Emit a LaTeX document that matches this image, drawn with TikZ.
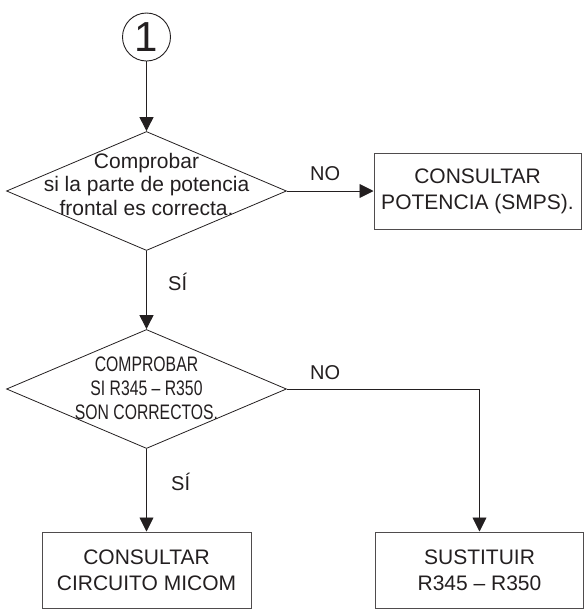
\documentclass[tikz,border=0pt]{standalone}
\usepackage{fontspec}
\setmainfont{Liberation Sans}
\newfontfamily\narrowfont[FakeStretch=0.75,Ligatures=TeX]{Liberation Sans}
\usetikzlibrary{shapes.geometric,arrows.meta}
\definecolor{ink}{HTML}{231F20}
\begin{document}
\begin{tikzpicture}[x=1pt,y=-1pt,
  every node/.style={text=ink},
  line/.style={draw=ink,line width=0.9pt},
  flow/.style={line,-{Triangle[length=14pt,width=14pt]}},
  decision/.style={diamond,draw=ink,line width=0.8pt,inner sep=0pt,
    minimum width=280pt,minimum height=119pt},
  actionbox/.style={rectangle,draw=ink!80,line width=1pt,inner sep=0pt,
    minimum height=76pt,align=center,font=\fontsize{21}{26}\selectfont},
  dtext/.style={align=center,inner sep=0pt},
  tag/.style={anchor=base west,inner sep=0pt,font=\fontsize{20}{24}\selectfont}]
\useasboundingbox (0,0) rectangle (584,614);

% start connector
\node[circle,draw=ink,line width=0.9pt,minimum size=48pt,inner sep=0pt,
  font=\fontsize{42}{42}\selectfont] (start) at (146.5,37) {1};

% first check
\node[decision] (d1) at (146.5,191) {};
\node[dtext,font=\fontsize{21}{23.5}\selectfont] (t1) at (146.5,184)
  {Comprobar\\si la parte de potencia\\frontal es correcta.};
\node[actionbox,minimum width=207pt] (b1) at (477.5,191)
  {CONSULTAR\\POTENCIA (SMPS).};

% second check
\node[decision] (d2) at (146.5,389) {};
\node[dtext,font=\narrowfont\fontsize{21}{24}\selectfont] (t2) at (146.5,388.5)
  {COMPROBAR\\SI R345 – R350\\SON CORRECTOS.};

% outcomes
\node[actionbox,minimum width=209pt] (b3) at (146.5,570)
  {CONSULTAR\\CIRCUITO MICOM};
\node[actionbox,minimum width=208pt] (b4) at (479.5,570)
  {SUSTITUIR\\R345 – R350};

% connectors
\draw[flow] (start.south) -- (d1.north);
\draw[flow] (d1.east) -- (b1.west);
\draw[flow] (d1.south) -- (d2.north);
\draw[flow] (d2.south) -- (b3.north);
\draw[flow] (d2.east) -| (b4.north);

% branch labels
\node[tag] (no1) at (310,180) {NO};
\node[tag] (si1) at (168,290) {SÍ};
\node[tag] (no2) at (310,379) {NO};
\node[tag] (si2) at (171,490) {SÍ};
\end{tikzpicture}
\end{document}
